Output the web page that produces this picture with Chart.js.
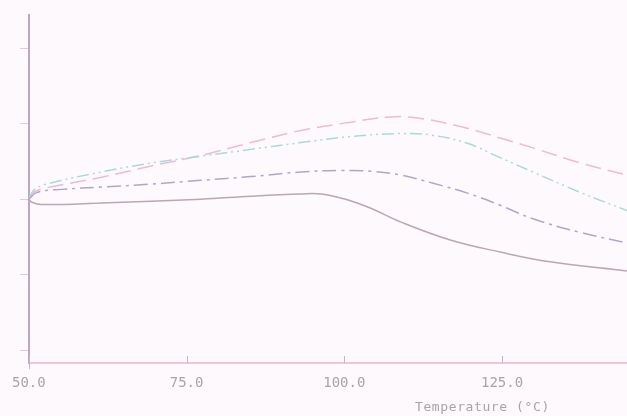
<!DOCTYPE html>
<html>
<head>
<meta charset="utf-8">
<script src="https://cdn.jsdelivr.net/npm/chart.js@4.4.1/dist/chart.umd.min.js"></script>
<style>
  html, body { margin: 0; padding: 0; background: #fdf9fc; }
  #wrap { position: relative; width: 627px; height: 416px; }
  #axisTitle {
    position: absolute; left: 415px; top: 399px;
    font: 13px "DejaVu Sans Mono", monospace; color: #aaa3a9;
    letter-spacing: 0.6px; white-space: pre;
  }
</style>
</head>
<body>
<div id="wrap">
  <canvas id="dsc" width="627" height="416"></canvas>
  <div id="axisTitle">Temperature (°C)</div>
</div>
<script>
// valeurs (x en °C, y en unités de graduation)
const xTickValues = [50, 75, 100, 125];
const yTickValues = [0, 1, 2, 3, 4];

const tempSolid = [50, 50.5, 52, 61.5, 77.3, 85.2, 93.1, 96.3, 100.2, 104.2, 108.9, 116.8, 124.7, 132.6, 144.8];
const ySolid    = [2.00, 1.96, 1.93, 1.95, 2.00, 2.04, 2.07, 2.07, 2.00, 1.88, 1.70, 1.46, 1.30, 1.17, 1.05];

const tempDashDot = [50, 51.3, 55.2, 61.5, 69.4, 77.3, 85.2, 93.1, 99.4, 104.2, 108.9, 114.1, 119.5, 124.7, 129.9, 137.4, 144.8];
const yDashDot    = [2.00, 2.09, 2.13, 2.16, 2.20, 2.25, 2.30, 2.36, 2.38, 2.37, 2.32, 2.21, 2.08, 1.92, 1.74, 1.56, 1.42];

const tempCyan = [50, 50.8, 52.8, 61.5, 69.4, 77.3, 85.2, 93.1, 101, 108.9, 113.7, 119.5, 124.7, 129.9, 137.4, 144.8];
const yCyan    = [2.00, 2.12, 2.20, 2.36, 2.48, 2.57, 2.66, 2.75, 2.83, 2.87, 2.85, 2.74, 2.55, 2.36, 2.09, 1.85];

const tempPink = [50, 50.8, 52.8, 61.5, 69.4, 77.3, 85.2, 93.1, 101, 107.3, 112.1, 119.5, 124.7, 129.9, 137.4, 144.8];
const yPink    = [2.00, 2.09, 2.15, 2.29, 2.44, 2.58, 2.75, 2.91, 3.02, 3.09, 3.07, 2.94, 2.81, 2.68, 2.48, 2.32];

const toPoints = (xs, ys) => xs.map((x, i) => ({ x, y: ys[i] }));

const serie = (data, color, dash) => ({
  data, borderColor: color, borderWidth: 1.5, borderDash: dash,
  pointRadius: 0, tension: 0.4, fill: false
});

// petites graduations vers l'intérieur sur l'axe x
const innerTicks = {
  id: 'innerTicks',
  afterDraw(chart) {
    const { ctx, scales: { x }, chartArea } = chart;
    ctx.save();
    ctx.strokeStyle = '#c9b4c4';
    ctx.lineWidth = 1;
    xTickValues.forEach(v => {
      const px = Math.round(x.getPixelForValue(v)) + 0.5;
      ctx.beginPath();
      ctx.moveTo(px, chartArea.bottom - 7);
      ctx.lineTo(px, chartArea.bottom + (v === 50 ? 6 : 0));
      ctx.stroke();
    });
    ctx.restore();
  }
};

new Chart(document.getElementById('dsc'), {
  type: 'line',
  data: {
    datasets: [
      serie(toPoints(tempSolid, ySolid), '#bba6b6', []),
      serie(toPoints(tempDashDot, yDashDot), '#b3a5ca', [14, 5, 3, 5]),
      serie(toPoints(tempCyan, yCyan), '#a6dcd8', [12, 4, 2, 4, 2, 4]),
      serie(toPoints(tempPink, yPink), '#f2b9d2', [16, 7])
    ]
  },
  options: {
    responsive: false,
    animation: false,
    layout: { padding: { top: 15, right: 0, left: 0, bottom: 0 } },
    plugins: { legend: { display: false }, tooltip: { enabled: false } },
    scales: {
      x: {
        type: 'linear', min: 50, max: 144.8,
        afterBuildTicks: s => { s.ticks = xTickValues.map(value => ({ value })); },
        afterFit: s => { s.height = 53; },
        border: { color: '#ecc6d8', width: 2 },
        grid: { display: true, drawOnChartArea: false, drawTicks: false },
        ticks: {
          padding: 12, color: '#aaa3a9',
          font: { family: 'DejaVu Sans Mono', size: 14 },
          callback: v => v.toFixed(1)
        }
      },
      y: {
        type: 'linear', min: -0.17, max: 4.44,
        afterBuildTicks: s => { s.ticks = yTickValues.map(value => ({ value })); },
        afterFit: s => { s.width = 26; },
        border: { color: '#b9a9c6', width: 2 },
        grid: { drawOnChartArea: false, drawTicks: true, tickLength: 9, color: '#e9c8da' },
        ticks: { display: false }
      }
    }
  },
  plugins: [innerTicks]
});
</script>
</body>
</html>
